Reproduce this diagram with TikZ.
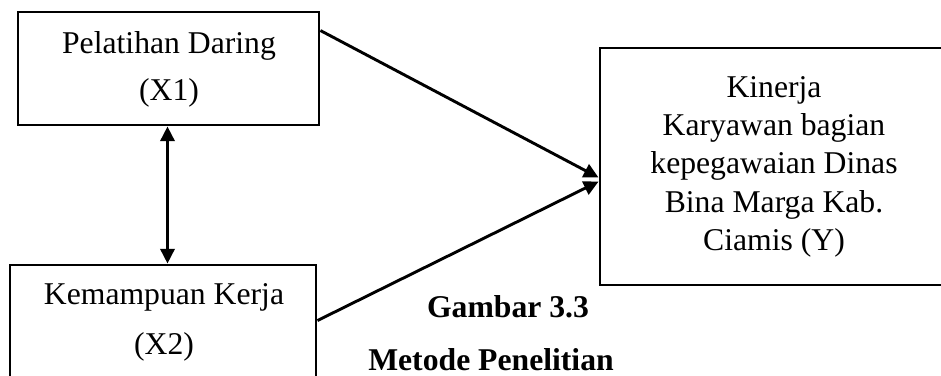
\documentclass[tikz,border=0pt]{standalone}
\usepackage{fontspec}
\setmainfont{Liberation Serif}
\usetikzlibrary{arrows.meta,calc,fit}
\tikzset{
  box/.style={draw, line width=1.1pt, inner sep=0pt},
  lbl/.style={anchor=base, inner sep=0pt, font=\fontsize{12}{14.4}\selectfont},
  captext/.style={anchor=base, inner sep=0pt, font=\fontsize{12}{14.4}\selectfont\bfseries},
  link/.style={line width=1.1pt, -{Triangle[length=5.6pt,width=5.4pt]}},
  both/.style={line width=1.1pt, {Triangle[length=5.6pt,width=5.4pt]}-{Triangle[length=5.6pt,width=5.4pt]}}
}
\begin{document}
\begin{tikzpicture}[x=0.3788pt, y=-0.3788pt]
\useasboundingbox (0,0) rectangle (941,375);

% box corners
\coordinate (a1) at (18,12);   \coordinate (a2) at (319,125);
\coordinate (b1) at (10,265);  \coordinate (b2) at (316,400);
\coordinate (c1) at (600,48);  \coordinate (c2) at (950,285);

\node[box, fit=(a1)(a2)] (x1) {};
\node[box, fit=(b1)(b2)] (x2) {};
\node[box, fit=(c1)(c2)] (y)  {};

% box texts
\node[lbl] (t11) at (169,53)  {Pelatihan Daring};
\node[lbl] (t12) at (169,100) {(X1)};
\node[lbl] (t21) at (164,304) {Kemampuan Kerja};
\node[lbl] (t22) at (164,354) {(X2)};
\node[lbl] (t31) at (774,97)  {Kinerja};
\node[lbl] (t32) at (774,135) {Karyawan bagian};
\node[lbl] (t33) at (774,173) {kepegawaian Dinas};
\node[lbl] (t34) at (774,212) {Bina Marga Kab.};
\node[lbl] (t35) at (774,250) {Ciamis (Y)};

% caption
\node[captext] (g1) at (508,317) {Gambar 3.3};
\node[captext] (g2) at (491,370) {Metode Penelitian};

% connectors
\coordinate (vtop) at ($(x1.south)+(-1,0)$);
\draw[link] ($(x1.north east)+(0,20)$) -- ($(y.north west)+(0,131)$);
\draw[link] ($(x2.north east)+(0,57)$) -- ($(y.north west)+(0,135)$);
\draw[both] (vtop) -- (vtop |- x2.north);
\end{tikzpicture}
\end{document}
